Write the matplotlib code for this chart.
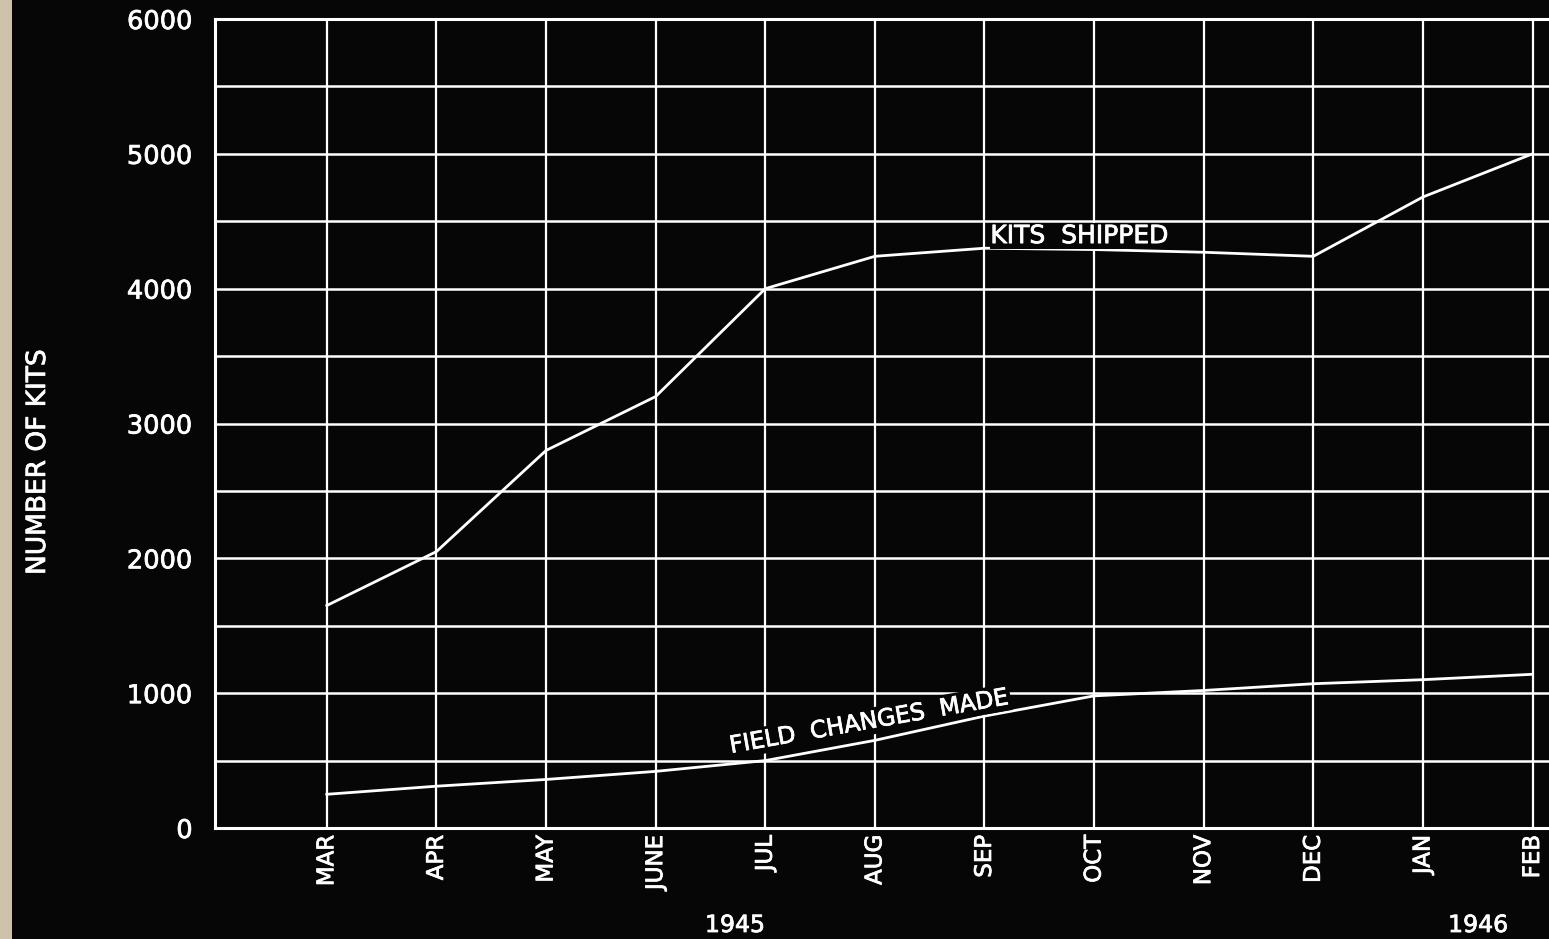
import matplotlib
matplotlib.use("Agg")
import matplotlib.pyplot as plt
import matplotlib.patheffects as pe
from matplotlib.patches import Rectangle

months = ["MAR", "APR", "MAY", "JUNE", "JUL", "AUG", "SEP", "OCT", "NOV", "DEC", "JAN", "FEB"]
kits_shipped = [1650, 2050, 2800, 3200, 4000, 4240, 4300, 4290, 4270, 4240, 4680, 5000]
field_changes = [250, 310, 360, 420, 500, 650, 830, 980, 1020, 1070, 1100, 1140]
y_ticks = [0, 1000, 2000, 3000, 4000, 5000, 6000]
y_grid = [500, 1500, 2500, 3500, 4500, 5500]
years = ["1945", "1946"]

W, H, DPI = 1549, 939, 100
bg = "#060606"
fg = "white"
thick = [pe.withStroke(linewidth=0.55, foreground=fg)]

fig = plt.figure(figsize=(W / DPI, H / DPI), dpi=DPI, facecolor=bg)
fig.patches.append(Rectangle((0, 0), 12 / W, 1, transform=fig.transFigure,
                             facecolor="#cfc2ad", edgecolor="none", zorder=0))

left = 215 / W
bottom = (H - 828) / H
top = (H - 19) / H
ax = fig.add_axes([left, bottom, 1.0 - left, top - bottom])
ax.set_facecolor(bg)

x = list(range(len(months)))
ax.set_xlim(-1.02, 11.15)
ax.set_ylim(0, 6000)

ax.grid(False)
for xi in x:
    ax.axvline(xi, color=fg, lw=1.6, zorder=1)
for yv in y_ticks + y_grid:
    ax.axhline(yv, color=fg, lw=1.8, zorder=1)

ax.plot(x, kits_shipped, color=fg, lw=2.0, zorder=3)
ax.plot(x, field_changes, color=fg, lw=2.0, zorder=3)

for s in ["left", "bottom", "top"]:
    ax.spines[s].set_color(fg)
    ax.spines[s].set_linewidth(2.2)
ax.spines["right"].set_visible(False)

ax.set_xticks(x)
ax.set_xticklabels(months, rotation=90, va="top", ha="center")
ax.set_yticks(y_ticks)
ax.set_yticklabels([str(v) for v in y_ticks])
ax.tick_params(axis="x", length=0, pad=5, labelsize=16.5, colors=fg)
ax.tick_params(axis="y", length=0, pad=16, labelsize=18.5, colors=fg)
for lab in ax.get_xticklabels() + ax.get_yticklabels():
    lab.set_path_effects(thick)

fig.text(38 / W, 1 - 462 / H, "NUMBER OF KITS", color=fg, fontsize=19,
         rotation=90, ha="center", va="center", path_effects=thick)

ax.text(6.87, 4390, "KITS  SHIPPED", color=fg, fontsize=18, ha="center", va="center",
        zorder=4, path_effects=thick, bbox=dict(facecolor=bg, edgecolor="none", pad=0.5))
ax.text(4.95, 790, "FIELD  CHANGES  MADE", color=fg, fontsize=17, ha="center", va="center",
        rotation=10, rotation_mode="anchor", zorder=4, path_effects=thick,
        bbox=dict(facecolor=bg, edgecolor="none", pad=1.0))

fig.text(735 / W, 1 - 925 / H, years[0], color=fg, fontsize=17, ha="center", va="center",
         path_effects=thick)
fig.text(1478 / W, 1 - 925 / H, years[1], color=fg, fontsize=17, ha="center", va="center",
         path_effects=thick)

fig.savefig("out.png", dpi=DPI, facecolor=fig.get_facecolor())
